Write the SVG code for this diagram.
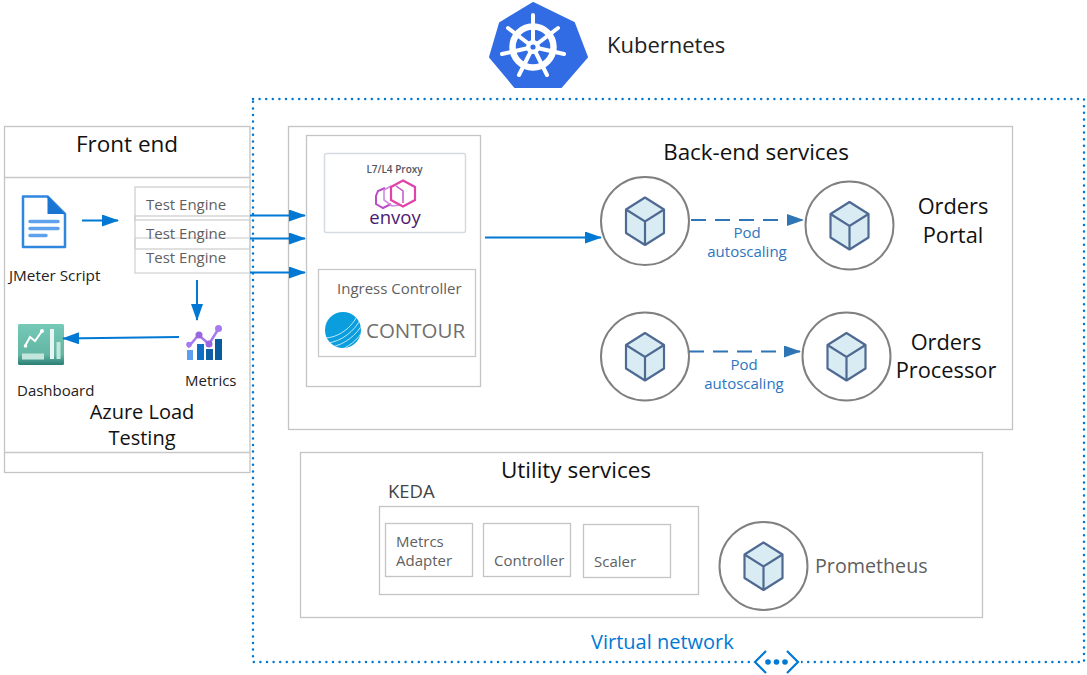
<svg xmlns="http://www.w3.org/2000/svg" xmlns:xlink="http://www.w3.org/1999/xlink" width="1087" height="675" viewBox="0 0 1087 675">
<style>
text{font-family:"Open Sans","Noto Sans","Liberation Sans",sans-serif}
.box{fill:#fff;stroke:#c4c4c4;stroke-width:1.3}
.lt{fill:none;stroke:#c8c8c8;stroke-width:1.3}
.h{font-size:22px;fill:#111}
.g{font-size:15px;fill:#5f5f5f}
.k{font-size:15px;fill:#222}
.b{font-size:15px;fill:#2e75c0}
.pod{fill:none;stroke:#808080;stroke-width:2}
.arrow{stroke:#0078d4;stroke-width:2;fill:none;marker-end:url(#a)}
.dash{stroke:#2e75b6;stroke-width:2;fill:none;stroke-dasharray:15 9;marker-end:url(#d)}
</style>
<defs>
<marker id="a" markerUnits="userSpaceOnUse" markerWidth="17" markerHeight="12" refX="16" refY="6" orient="auto"><path d="M0 0L17 6L0 12Z" fill="#0078d4"/></marker>
<marker id="d" markerUnits="userSpaceOnUse" markerWidth="17" markerHeight="12" refX="16" refY="6" orient="auto"><path d="M0 0L17 6L0 12Z" fill="#2e75b6"/></marker>
<g id="cube"><path d="M0-23.5L19-11.5V12L0 24L-19 12V-11.5Z" fill="#daecf3" stroke="#4f6a92" stroke-width="2.2" stroke-linejoin="round"/><path d="M-19-11.5L0 0.5L19-11.5M0 0.5V24" fill="none" stroke="#4f6a92" stroke-width="2.2"/></g>
<linearGradient id="dg" x1="0" y1="0" x2="0" y2="1"><stop offset="0" stop-color="#76c9b6"/><stop offset=".75" stop-color="#63b5a4"/><stop offset="1" stop-color="#2a7f75"/></linearGradient>
<clipPath id="cc"><circle cx="343" cy="330" r="18"/></clipPath>
</defs>

<g id="kubernetes">
<path d="M533 3L574 23L587 57L561 87H515L490 57L500 23Z" fill="#326ce5" stroke="#326ce5" stroke-width="2" stroke-linejoin="round"/>
<g fill="none" stroke="#fff" stroke-linecap="round">
<circle cx="533" cy="47" r="20.500" stroke-width="6.500"/>
<path d="M533 15V47M558 28L533 47M564 54L533 47M547 75L533 47M519 75L533 47M502 54L533 47M508 28L533 47" stroke-width="4"/>
</g>
<circle cx="533" cy="47" r="7" fill="#fff"/>
<circle cx="533" cy="47" r="2.600" fill="#326ce5"/>
<text x="607" y="53" class="h" style="fill:#222">Kubernetes</text>
</g>

<g id="front-end">
<rect class="box" x="4.500" y="126.500" width="245.500" height="346"/>
<path class="lt" d="M4.500 177.500H250M4.500 452.500H250"/>
<text x="127" y="152" class="h" text-anchor="middle" style="font-size:22.500px">Front end</text>
<text x="142" y="419" class="h" text-anchor="middle" style="font-size:20px">Azure Load</text>
<text x="142" y="445" class="h" text-anchor="middle" style="font-size:20px">Testing</text>
</g>

<g id="jmeter-script">
<path d="M23 196.500H47.500L65 214V247H23Z" fill="#fff" stroke="#2f87e0" stroke-width="2.500" stroke-linejoin="round"/>
<path d="M47.500 196L65 214H47.500Z" fill="#1a74d2"/>
<path d="M30 221.500H58M30 228.500H58M30 235.500H46" stroke="#5ea2ec" stroke-width="3.500" stroke-linecap="round"/>
<text x="9" y="281" class="k" style="font-size:15.300px">JMeter Script</text>
</g>

<g id="test-engines">
<rect x="135" y="187" width="115" height="33" fill="#fff" stroke="#cfcfcf" stroke-width="1.300"/>
<rect x="135" y="216" width="115" height="33" fill="none" stroke="#cfcfcf" stroke-width="1.300"/>
<rect x="135" y="238" width="115" height="35" fill="none" stroke="#d4d4d4" stroke-width="1.300"/>
<text x="146" y="210" class="g">Test Engine</text>
<text x="146" y="239" class="g">Test Engine</text>
<text x="146" y="263" class="g">Test Engine</text>
</g>

<g id="metrics">
<path d="M188 347.500L198.500 335L209 344L219 328" fill="none" stroke="#a67af0" stroke-width="2.500"/>
<circle cx="189" cy="344.500" r="2.800" fill="#a67af0"/><circle cx="199" cy="335" r="3.500" fill="#9a66e0"/><circle cx="209" cy="344" r="3.500" fill="#9a66e0"/><circle cx="218.500" cy="328.500" r="3.500" fill="#a67af0"/>
<rect x="187" y="350" width="6" height="10" fill="#5ea0ef"/><rect x="197" y="344" width="7" height="16" fill="#0f6fc6"/><rect x="206" y="349" width="7" height="11" fill="#0f5fa6"/><rect x="215" y="339" width="7" height="21" fill="#0a5a9e"/>
<text x="185" y="386" class="k">Metrics</text>
</g>

<g id="dashboard">
<rect x="18" y="324" width="46" height="41" rx="1.500" fill="url(#dg)"/>
<path d="M25 346L30 337L35 341L42 331" fill="none" stroke="#fff" stroke-width="2"/>
<circle cx="42" cy="331" r="2" fill="#fff"/><circle cx="25.500" cy="346" r="1.800" fill="#fff"/>
<rect x="22" y="353.500" width="22" height="6" fill="#c2e5dc"/>
<rect x="50" y="329" width="4" height="30" fill="#e8f5f2"/><rect x="56.500" y="342" width="4" height="17" fill="#c2e5dc"/>
<text x="17" y="396" class="k">Dashboard</text>
</g>

<g id="backend-services">
<rect class="box" x="288.500" y="126.500" width="724" height="303"/>
<text x="756" y="160" class="h" text-anchor="middle" style="font-size:22.400px">Back-end services</text>
</g>

<g id="ingress">
<rect class="box" x="306.500" y="135.500" width="174" height="251"/>
</g>

<g id="envoy">
<rect x="324.500" y="153.500" width="141" height="79" rx="2" fill="#fff" stroke="#d5dbe2" stroke-width="1.500"/>
<text x="394.500" y="172.500" text-anchor="middle" style="font-size:10px;font-weight:600;fill:#55555f">L7/L4 Proxy</text>
<path d="M385 188L378 191L376 196V204L383 208L391 204" fill="none" stroke="#bc4cc4" stroke-width="2"/>
<path d="M391 186L384 190V200L392 206L400 205" fill="none" stroke="#d08ae0" stroke-width="1.600"/>
<path d="M396 186L403 191V203" fill="none" stroke="#c257c8" stroke-width="1.500"/>
<path d="M403 180.500L415 187V200L403 206.500L391 200V187Z" fill="none" stroke="#e243a8" stroke-width="2.200"/>
<text x="395" y="224" text-anchor="middle" style="font-size:18.500px;fill:#4a1a70;font-weight:500">envoy</text>
</g>

<g id="contour">
<rect x="318.500" y="269.500" width="157" height="87" fill="#fff" stroke="#c8c8c8" stroke-width="1.300"/>
<text x="337" y="294" class="g">Ingress Controller</text>
<circle cx="343" cy="330" r="18" fill="#0a9ede"/>
<g clip-path="url(#cc)" fill="none" stroke="#d6effa" stroke-width="0.900">
<path d="M324 338C338 338 352 328 358 314M327 343C341 342 355 331 361 318M331 347C344 345 357 335 363 323M336 351C348 348 358 340 364 329M342 354C351 351 359 345 364 336"/>
</g>
<text x="366" y="338" style="font-size:20.500px;fill:#6f6f6f">CONTOUR</text>
</g>

<g id="orders-portal">
<circle class="pod" cx="645" cy="221" r="44"/><use xlink:href="#cube" href="#cube" x="645" y="221"/>
<circle class="pod" cx="849.500" cy="225.500" r="44"/><use xlink:href="#cube" href="#cube" x="849.500" y="225.500"/>
<text x="953" y="214" class="h" text-anchor="middle" style="font-size:21.800px">Orders</text>
<text x="953" y="243" class="h" text-anchor="middle" style="font-size:21.800px">Portal</text>
<text x="747" y="238" class="b" text-anchor="middle">Pod</text>
<text x="747" y="257" class="b" text-anchor="middle">autoscaling</text>
</g>

<g id="orders-processor">
<circle class="pod" cx="645" cy="356.500" r="44"/><use xlink:href="#cube" href="#cube" x="645" y="356.500"/>
<circle class="pod" cx="846.500" cy="356.500" r="44"/><use xlink:href="#cube" href="#cube" x="846.500" y="356.500"/>
<text x="946" y="350" class="h" text-anchor="middle" style="font-size:21.800px">Orders</text>
<text x="946" y="378" class="h" text-anchor="middle" style="font-size:21.800px">Processor</text>
<text x="744" y="370" class="b" text-anchor="middle">Pod</text>
<text x="744" y="389" class="b" text-anchor="middle">autoscaling</text>
</g>

<g id="utility-services">
<rect class="box" x="300.500" y="452.500" width="682" height="165"/>
<text x="576" y="478" class="h" text-anchor="middle" style="font-size:22.500px">Utility services</text>
</g>

<g id="keda">
<text x="388" y="498" style="font-size:18.500px;fill:#444">KEDA</text>
<rect class="box" x="379.500" y="506.500" width="319" height="88"/>
<rect class="box" x="385.500" y="523.500" width="87" height="53"/>
<rect class="box" x="483.500" y="523.500" width="87" height="53"/>
<rect class="box" x="583.500" y="524.500" width="87" height="53"/>
<text x="396" y="547" class="g">Metrcs</text>
<text x="396" y="566" class="g">Adapter</text>
<text x="494" y="566" class="g">Controller</text>
<text x="594" y="567" class="g">Scaler</text>
</g>

<g id="prometheus">
<circle class="pod" cx="763.500" cy="566" r="44"/><use xlink:href="#cube" href="#cube" x="763.500" y="566"/>
<text x="815" y="573" style="font-size:19.700px;fill:#5f5f5f">Prometheus</text>
</g>

<g id="virtual-network">
<rect x="253" y="99" width="831" height="563" fill="none" stroke="#0078d4" stroke-width="2.500" stroke-dasharray="0 6.600" stroke-linecap="round"/>
<rect x="751" y="650" width="50" height="24" fill="#fff"/>
<path d="M766 651L755 662L766 673M787 651L798 662L787 673" fill="none" stroke="#0078d4" stroke-width="2.200"/>
<circle cx="768" cy="662" r="2.800" fill="#0078d4"/><circle cx="776.500" cy="662" r="2.800" fill="#0078d4"/><circle cx="785" cy="662" r="2.800" fill="#0078d4"/>
<text x="591" y="649" style="font-size:20px;fill:#0078d4">Virtual network</text>
</g>

<g id="connectors">
<path class="arrow" d="M82 220.500H118"/>
<path class="arrow" d="M250 215.500H305"/>
<path class="arrow" d="M250 238.500H305"/>
<path class="arrow" d="M250 272.500H305"/>
<path class="arrow" d="M197 280V320"/>
<path class="arrow" d="M179 337L63 338.500"/>
<path class="arrow" d="M485 237.500H601"/>
<path class="dash" d="M691 220H803"/>
<path class="dash" d="M689 351.500H800"/>
</g>
</svg>
